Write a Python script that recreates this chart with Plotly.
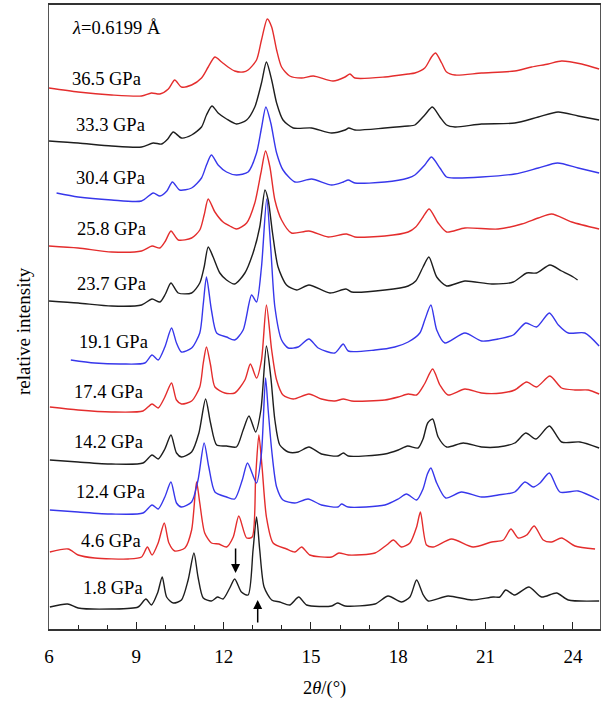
import plotly.graph_objects as go

# ---- data (2theta in degrees, relative intensity in arbitrary units, already offset-stacked) ----
pressures = ["36.5 GPa", "33.3 GPa", "30.4 GPa", "25.8 GPa", "23.7 GPa", "19.1 GPa",
             "17.4 GPa", "14.2 GPa", "12.4 GPa", "4.6 GPa", "1.8 GPa"]

x_365 = [6.0, 7.0, 8.15, 9.18, 9.52, 9.81, 10.1, 10.32, 10.55, 10.9, 11.24, 11.47, 11.70, 11.93, 12.15, 12.38, 12.67, 12.84, 13.13, 13.30, 13.50, 13.65, 13.82, 13.99, 14.27, 14.68, 15.08, 15.76, 16.17, 16.34, 16.51, 17.54, 18.34, 18.57, 18.91, 19.14, 19.28, 19.49, 19.66, 19.95, 20.86, 22.0, 22.58, 23.15, 23.61, 24.30, 24.9]
y_365 = [541, 537, 534, 533, 536, 535, 540, 549, 542, 544, 551, 562, 572, 567, 562, 558, 557, 559, 569, 589, 610, 602, 579, 562, 553, 551, 553, 548, 552, 555, 551, 552, 555, 556, 561, 572, 576, 566, 557, 554, 556, 558, 562, 565, 568, 565, 560]

x_333 = [6.0, 7.0, 8.15, 9.18, 9.58, 9.87, 10.08, 10.27, 10.55, 10.9, 11.24, 11.41, 11.60, 11.81, 12.10, 12.44, 12.79, 13.07, 13.30, 13.47, 13.65, 13.82, 14.04, 14.39, 15.02, 15.71, 16.17, 16.30, 16.51, 17.54, 18.34, 18.57, 18.91, 19.17, 19.43, 19.66, 19.95, 20.86, 22.0, 22.81, 23.49, 24.18, 24.9]
y_333 = [488, 486, 483, 482, 486, 485, 490, 497, 491, 494, 502, 514, 523, 516, 510, 505, 509, 522, 546, 567, 549, 526, 509, 501, 501, 496, 499, 501, 499, 501, 503, 504, 514, 522, 512, 504, 502, 505, 506, 512, 517, 513, 509]

x_304 = [6.26, 7.0, 8.15, 9.18, 9.58, 9.81, 10.05, 10.24, 10.49, 10.9, 11.24, 11.41, 11.58, 11.81, 12.10, 12.44, 12.84, 13.13, 13.30, 13.45, 13.62, 13.82, 14.04, 14.45, 15.02, 15.71, 16.11, 16.28, 16.51, 17.54, 18.34, 18.57, 18.91, 19.14, 19.43, 19.66, 19.95, 20.86, 22.0, 22.81, 23.47, 24.18, 24.9]
y_304 = [436, 432, 429, 428, 436, 433, 438, 447, 439, 441, 451, 464, 474, 464, 457, 454, 457, 476, 501, 522, 506, 476, 459, 447, 450, 444, 447, 449, 446, 447, 451, 454, 464, 472, 461, 452, 451, 452, 455, 461, 466, 461, 456]

x_258 = [6.0, 7.0, 8.15, 9.18, 9.54, 9.81, 10.0, 10.19, 10.44, 10.9, 11.18, 11.33, 11.47, 11.70, 11.98, 12.21, 12.44, 12.79, 13.07, 13.28, 13.44, 13.59, 13.76, 13.99, 14.33, 14.93, 15.59, 16.22, 16.51, 17.54, 18.34, 18.6, 18.85, 19.06, 19.37, 19.66, 20.29, 21.43, 22.24, 22.81, 23.27, 23.96, 24.9]
y_258 = [383, 381, 377, 378, 383, 381, 388, 398, 389, 391, 399, 414, 430, 417, 407, 403, 400, 406, 426, 456, 478, 462, 429, 409, 396, 398, 392, 395, 392, 393, 397, 402, 412, 420, 406, 397, 401, 400, 405, 411, 415, 407, 400]

x_237 = [6.0, 7.0, 8.15, 9.18, 9.54, 9.81, 10.0, 10.19, 10.44, 10.9, 11.18, 11.33, 11.47, 11.64, 11.87, 12.10, 12.38, 12.73, 13.01, 13.24, 13.42, 13.53, 13.68, 13.87, 14.16, 14.51, 14.93, 15.65, 16.20, 16.40, 17.54, 18.34, 18.6, 18.85, 19.05, 19.32, 19.66, 20.29, 21.21, 21.95, 22.41, 22.75, 23.21, 23.61, 24.01, 24.16]
y_237 = [328, 326, 323, 324, 330, 327, 335, 346, 336, 336, 346, 362, 382, 372, 356, 349, 345, 356, 376, 402, 439, 429, 396, 362, 344, 339, 344, 336, 340, 337, 339, 343, 348, 362, 372, 352, 343, 348, 345, 347, 356, 356, 364, 358, 352, 349]

x_191 = [6.75, 7.57, 8.49, 9.29, 9.54, 9.75, 9.98, 10.21, 10.38, 10.55, 10.9, 11.18, 11.30, 11.41, 11.58, 11.76, 12.10, 12.38, 12.67, 12.96, 13.13, 13.30, 13.48, 13.62, 13.76, 13.99, 14.22, 14.56, 14.93, 15.25, 15.82, 16.11, 16.28, 17.20, 17.88, 18.34, 18.74, 18.91, 19.12, 19.32, 19.60, 20.29, 20.86, 21.43, 21.95, 22.38, 22.75, 23.19, 23.50, 23.84, 24.41, 24.9]
y_191 = [269, 266, 265, 266, 274, 269, 282, 301, 286, 277, 281, 296, 325, 352, 319, 296, 292, 289, 299, 334, 327, 362, 430, 380, 322, 289, 281, 282, 290, 281, 276, 285, 278, 279, 282, 287, 296, 309, 324, 299, 286, 296, 288, 290, 294, 306, 302, 316, 304, 296, 296, 283]

x_174 = [6.03, 7.0, 8.15, 9.23, 9.54, 9.75, 9.98, 10.21, 10.38, 10.55, 10.9, 11.18, 11.30, 11.41, 11.55, 11.70, 12.04, 12.38, 12.73, 12.92, 13.13, 13.30, 13.47, 13.65, 13.82, 14.04, 14.39, 14.93, 15.36, 15.82, 16.11, 16.40, 17.54, 18.0, 18.34, 18.63, 18.9, 19.18, 19.43, 19.71, 20.29, 20.86, 21.55, 22.0, 22.41, 22.75, 23.21, 23.61, 24.07, 24.53, 24.9]
y_174 = [222, 219, 217, 218, 225, 221, 232, 246, 229, 225, 228, 242, 266, 282, 264, 242, 236, 236, 249, 265, 251, 269, 324, 279, 249, 234, 230, 235, 230, 228, 230, 228, 229, 232, 235, 234, 245, 260, 244, 234, 240, 236, 236, 239, 247, 242, 253, 241, 239, 239, 235]

x_142 = [6.03, 7.0, 8.15, 9.23, 9.54, 9.75, 9.98, 10.19, 10.38, 10.55, 10.9, 11.15, 11.38, 11.55, 11.76, 12.10, 12.44, 12.67, 12.87, 13.10, 13.28, 13.47, 13.62, 13.76, 13.93, 14.22, 14.56, 14.93, 15.36, 15.93, 16.11, 16.28, 17.54, 18.0, 18.32, 18.68, 18.85, 19.01, 19.18, 19.37, 19.66, 20.23, 20.86, 21.43, 22.0, 22.38, 22.73, 23.19, 23.61, 24.24, 24.9]
y_142 = [169, 167, 165, 166, 174, 170, 180, 194, 176, 172, 177, 196, 230, 206, 184, 183, 182, 199, 213, 197, 219, 283, 252, 209, 184, 177, 177, 182, 175, 173, 176, 173, 175, 179, 183, 181, 190, 206, 210, 192, 182, 186, 182, 182, 186, 196, 190, 203, 187, 187, 181]

x_124 = [6.03, 7.0, 8.15, 9.23, 9.54, 9.75, 9.98, 10.19, 10.38, 10.55, 10.9, 11.12, 11.33, 11.49, 11.70, 12.10, 12.38, 12.64, 12.82, 13.13, 13.30, 13.44, 13.53, 13.65, 13.82, 14.04, 14.45, 14.90, 15.36, 15.93, 16.05, 16.28, 17.54, 18.0, 18.28, 18.63, 18.85, 19.0, 19.12, 19.32, 19.63, 20.17, 20.86, 21.43, 22.0, 22.35, 22.64, 22.87, 23.19, 23.55, 24.18, 24.9]
y_124 = [119, 117, 115, 116, 124, 120, 132, 147, 126, 122, 127, 149, 186, 162, 137, 132, 130, 149, 166, 146, 176, 251, 219, 179, 142, 129, 126, 130, 124, 122, 125, 122, 124, 130, 135, 129, 140, 155, 161, 146, 131, 137, 132, 134, 137, 147, 142, 146, 156, 137, 138, 129]

x_46 = [6.03, 6.66, 7.0, 7.57, 8.72, 9.18, 9.38, 9.54, 9.75, 9.96, 10.12, 10.32, 10.67, 10.9, 11.07, 11.18, 11.35, 11.58, 11.84, 12.10, 12.33, 12.52, 12.79, 12.98, 13.10, 13.21, 13.32, 13.47, 13.70, 14.16, 14.45, 14.68, 14.96, 15.71, 15.96, 16.28, 17.20, 17.60, 17.83, 18.11, 18.40, 18.63, 18.76, 18.97, 19.20, 19.83, 20.57, 21.21, 21.61, 21.87, 22.12, 22.41, 22.67, 22.98, 23.27, 23.61, 24.07, 24.76]
y_46 = [77, 80, 74, 71, 70, 72, 82, 74, 86, 106, 86, 78, 81, 99, 147, 126, 96, 86, 85, 82, 92, 113, 91, 92, 152, 194, 162, 112, 86, 80, 77, 82, 74, 72, 76, 74, 76, 84, 89, 82, 86, 102, 117, 84, 82, 90, 82, 87, 89, 100, 91, 94, 103, 89, 87, 91, 83, 80]

x_18 = [6.03, 6.64, 7.0, 8.15, 9.06, 9.33, 9.52, 9.73, 9.89, 10.04, 10.27, 10.55, 10.78, 10.98, 11.12, 11.30, 11.58, 11.79, 11.98, 12.21, 12.38, 12.61, 12.84, 13.01, 13.13, 13.24, 13.39, 13.65, 13.93, 14.27, 14.58, 14.85, 15.71, 15.91, 16.17, 17.20, 17.65, 18.11, 18.40, 18.63, 18.86, 19.03, 19.71, 20.52, 21.26, 21.49, 21.69, 22.0, 22.49, 22.92, 23.44, 23.84, 24.9]
y_18 = [22, 25, 21, 20, 22, 30, 24, 36, 52, 32, 26, 29, 49, 76, 52, 31, 28, 32, 30, 41, 50, 37, 34, 79, 112, 79, 42, 29, 27, 24, 32, 24, 23, 26, 23, 25, 33, 27, 32, 49, 34, 28, 33, 29, 32, 32, 39, 34, 42, 32, 36, 29, 28]

xs = [x_365, x_333, x_304, x_258, x_237, x_191, x_174, x_142, x_124, x_46, x_18]
ys = [y_365, y_333, y_304, y_258, y_237, y_191, y_174, y_142, y_124, y_46, y_18]

# arrows marking two reflections of the 1.8 GPa pattern
arrow_x = [12.41, 13.17]

# ---- style / layout ----
RED = "rgb(228,45,45)"
BLUE = "rgb(55,55,235)"
BLACK = "rgb(30,30,30)"
colors = [RED, BLACK, BLUE, RED, BLACK, BLUE, RED, BLACK, BLUE, RED, BLACK]
FONT = "Liberation Serif, Times New Roman, serif"
FS = 18.5

# label anchor positions (right edge in 2theta, vertical centre in intensity units)
label_x = [9.23, 9.36, 9.36, 9.40, 9.40, 9.46, 9.29, 9.29, 9.36, 9.23, 9.29]
label_y = [550, 504, 451, 400, 345, 287, 237, 187, 137, 88, 41]

fig = go.Figure()
for i in range(len(xs) - 1, -1, -1):
    fig.add_trace(go.Scatter(x=xs[i], y=ys[i], mode="lines", name=pressures[i],
                             line=dict(color=colors[i], width=1.4, shape="spline", smoothing=0.7),
                             showlegend=False, hoverinfo="skip"))

ann = []
for p, lx, ly in zip(pressures, label_x, label_y):
    ann.append(dict(x=lx, y=ly, xref="x", yref="y", text=p, showarrow=False,
                    xanchor="right", yanchor="middle", font=dict(size=FS, color="black", family=FONT)))
ann.append(dict(x=6.71, y=601, xref="x", yref="y", text="<i>λ</i>=0.6199 Å", showarrow=False,
                xanchor="left", yanchor="middle", font=dict(size=FS, color="black", family=FONT)))
# arrows
ann.append(dict(x=arrow_x[0], y=56, ax=arrow_x[0], ay=82, xref="x", yref="y", axref="x", ayref="y",
                showarrow=True, arrowhead=2, arrowsize=1.2, arrowwidth=1.5, arrowcolor="black", text=""))
ann.append(dict(x=arrow_x[1], y=29, ax=arrow_x[1], ay=5, xref="x", yref="y", axref="x", ayref="y",
                showarrow=True, arrowhead=2, arrowsize=1.2, arrowwidth=1.5, arrowcolor="black", text=""))
# axis titles
ann.append(dict(x=0.5, y=-0.0946, xref="paper", yref="paper", text="2<i>θ</i>/(°)", showarrow=False,
                xanchor="center", yanchor="middle", font=dict(size=FS, color="black", family=FONT)))
ann.append(dict(x=-0.0454, y=0.4776, xref="paper", yref="paper", text="relative intensity", showarrow=False,
                textangle=-90, xanchor="center", yanchor="middle", font=dict(size=19, color="black", family=FONT)))

fig.update_layout(
    width=601, height=702,
    margin=dict(l=49, r=1, t=5, b=73),
    paper_bgcolor="white", plot_bgcolor="white",
    font=dict(family=FONT, color="black"),
    annotations=ann,
)
fig.update_xaxes(range=[6, 24.93], tickvals=[6, 9, 12, 15, 18, 21, 24], ticks="inside", ticklen=7,
                 tickwidth=1.3, tickcolor="#222", showline=True, linecolor="#333", linewidth=1.6,
                 mirror=True, showgrid=False, zeroline=False, ticklabelstandoff=9,
                 tickfont=dict(size=19, family=FONT, color="black"),
                 minor=dict(dtick=1, tick0=6, ticks="inside", ticklen=4, tickcolor="#222", tickwidth=1.2))
fig.update_yaxes(range=[0, 624], showticklabels=False, ticks="", showline=True, linecolor="#555",
                 linewidth=1.4, mirror=True, showgrid=False, zeroline=False)

fig.write_html("out.html", config={"displayModeBar": False},
               post_script="document.body.style.margin='0px';")
